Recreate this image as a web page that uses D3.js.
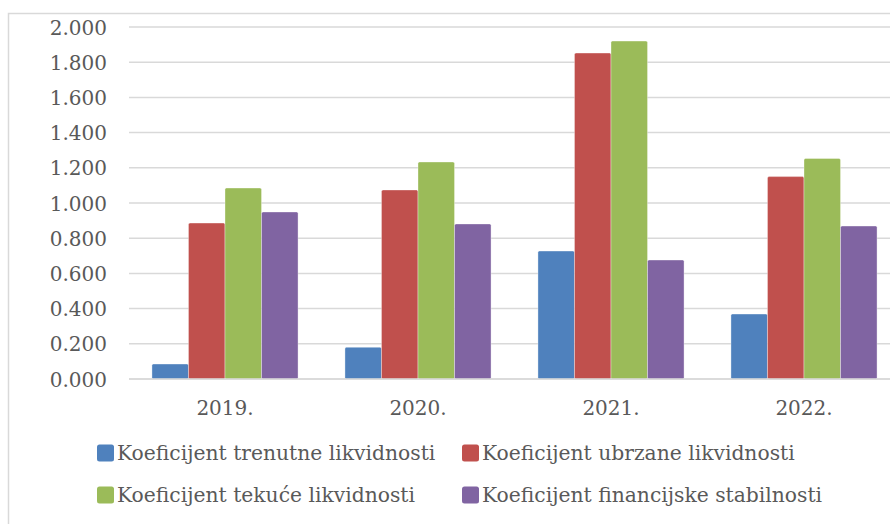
<!DOCTYPE html>
<html><head><meta charset="utf-8">
<script src="https://cdn.jsdelivr.net/npm/d3@7"></script>
<style>body{margin:0;background:#fff}svg{display:block}text{font-family:"DejaVu Serif",serif;fill:#595959}</style>
</head><body><svg width="890" height="524"></svg>
<script>
const years = ["2019.", "2020.", "2021.", "2022."];
const seriesNames = ["Koeficijent trenutne likvidnosti", "Koeficijent ubrzane likvidnosti", "Koeficijent tekuće likvidnosti", "Koeficijent financijske stabilnosti"];
const trenutne = [0.085, 0.180, 0.727, 0.369];
const ubrzane = [0.886, 1.074, 1.852, 1.150];
const tekuce = [1.085, 1.233, 1.920, 1.253];
const stabilnosti = [0.949, 0.881, 0.676, 0.869];
const colors = ["#4f81bd", "#c0504d", "#9bbb59", "#8064a2"];
const yTicks = [0, 0.2, 0.4, 0.6, 0.8, 1.0, 1.2, 1.4, 1.6, 1.8, 2.0];

const seriesVals = [trenutne, ubrzane, tekuce, stabilnosti];
const svg = d3.select("svg");

// frame
svg.append("rect").attr("x", 8.5).attr("y", 13.5).attr("width", 1000).attr("height", 600)
  .attr("fill", "none").attr("stroke", "#d9d9d9").attr("stroke-width", 1.5);

const y = d3.scaleLinear().domain([0, 2]).range([379, 27]);
const x0 = d3.scaleBand().domain(years).range([128.5, 900.5]).paddingInner(0.243).paddingOuter(0.1215);
const x1 = d3.scaleBand().domain(d3.range(4)).range([0, x0.bandwidth()]);

// y axis labels
const yAxis = d3.axisLeft(y).tickValues(yTicks).tickSize(0).tickFormat(d3.format(".3f"));
const gy = svg.append("g").attr("transform", "translate(129,0)").call(yAxis);
gy.select(".domain").remove();
gy.selectAll("text").attr("x", -22).attr("dy", "0.35em").style("font-size", "20px").attr("fill", "#595959");
// gridlines
svg.append("g").selectAll("line").data(yTicks).join("line")
  .attr("x1", 129).attr("x2", 890).attr("y1", d => y(d)).attr("y2", d => y(d))
  .attr("stroke", "#d9d9d9").attr("stroke-width", 1.5);

// bars
const groups = svg.append("g").selectAll("g").data(years).join("g")
  .attr("transform", d => `translate(${x0(d)},0)`);
groups.selectAll("rect").data((d, i) => seriesVals.map((s, k) => ({k, v: s[i]}))).join("rect")
  .attr("x", d => x1(d.k)).attr("width", x1.bandwidth())
  .attr("y", d => y(d.v)).attr("height", d => y(0) - y(d.v))
  .attr("rx", 1.5)
  .attr("fill", d => colors[d.k]).attr("stroke", "#ffffff").attr("stroke-opacity", 0.35).attr("stroke-width", 1);

// baseline over bars
svg.append("line").attr("x1", 129).attr("x2", 890).attr("y1", y(0)).attr("y2", y(0))
  .attr("stroke", "#d9d9d9").attr("stroke-width", 1.5);

// x axis labels
const xAxis = d3.axisBottom(x0).tickSize(0);
const gx = svg.append("g").attr("transform", `translate(0,${y(0)})`).call(xAxis);
gx.select(".domain").remove();
gx.selectAll("text").attr("y", 22).attr("dy", "0.71em").style("font-size", "20px").attr("fill", "#595959");

// legend
const legPos = [[97, 453], [462, 453], [97, 495], [462, 495]];
const leg = svg.append("g").selectAll("g").data(seriesNames).join("g")
  .attr("transform", (d, i) => `translate(${legPos[i][0]},${legPos[i][1]})`);
leg.append("rect").attr("x", 0).attr("y", -8.5).attr("width", 17).attr("height", 17).attr("rx", 2.5)
  .attr("fill", (d, i) => colors[i]);
leg.append("text").attr("x", 20).attr("dy", "0.35em").style("font-size", "20.3px").text(d => d);
</script></body></html>
